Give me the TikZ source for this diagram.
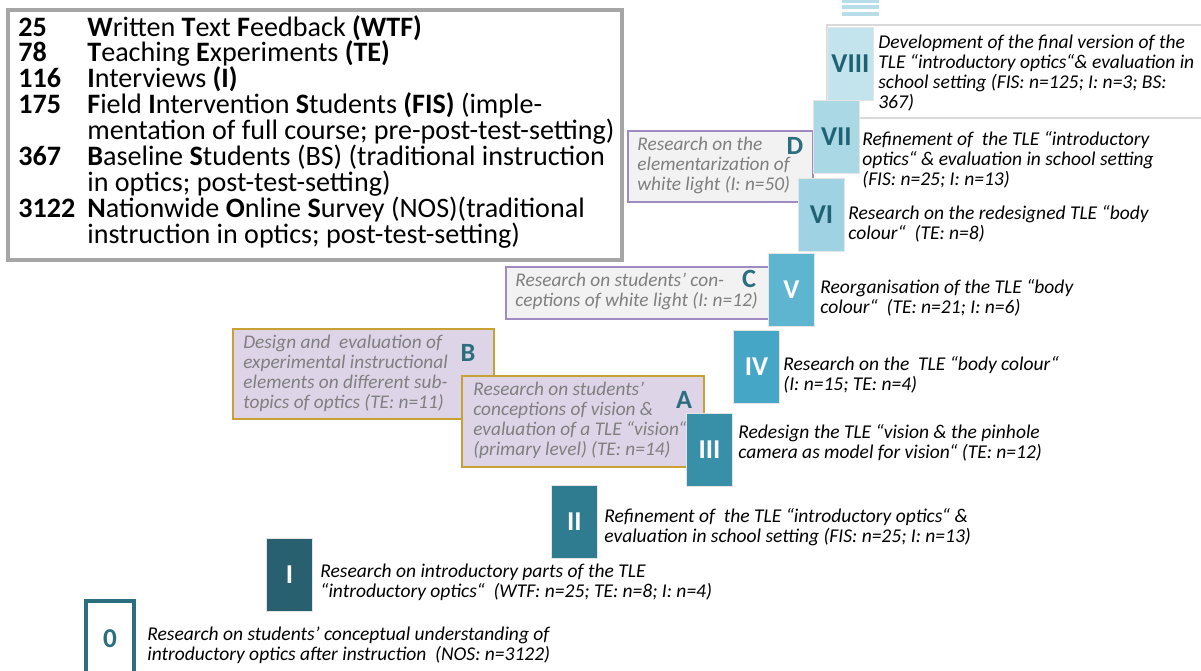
\documentclass[tikz,border=0pt]{standalone}
\usepackage{fontspec}
\setmainfont{Carlito}
\usetikzlibrary{calc}
\definecolor{tealdark}{HTML}{2B6E80}
\definecolor{tealtext}{HTML}{1F6274}
\definecolor{cI}{HTML}{28606F}
\definecolor{cII}{HTML}{2F7C91}
\definecolor{cIII}{HTML}{378FA8}
\definecolor{cIV}{HTML}{45A7C5}
\definecolor{cV}{HTML}{5DB5CF}
\definecolor{cVI}{HTML}{9FD2E2}
\definecolor{cVII}{HTML}{AAD8E5}
\definecolor{cVIII}{HTML}{C3E4ED}
\definecolor{cIX}{HTML}{B7DDEA}
\definecolor{lilac}{HTML}{9E8BC2}
\definecolor{lilacfill}{HTML}{DDD4E7}
\definecolor{gold}{HTML}{C9A033}
\definecolor{greyfill}{HTML}{F2F2F2}
\definecolor{greytext}{HTML}{7F7F7F}

\begin{document}
\begin{tikzpicture}[x=0.02cm,y=-0.02cm,
    stepbox/.style={draw=black!10,line width=0.5pt,anchor=north west,minimum width=0.92cm,minimum height=1.46cm,inner sep=0pt,font=\fontsize{15.5}{15.5}\selectfont\bfseries},
    steptext/.style={anchor=west,align=left,inner sep=0pt,font=\fontsize{11.1}{11.4}\selectfont\itshape},
    sidebox/.style={line width=1.2pt,anchor=north west,inner sep=0pt},
    sidetext/.style={anchor=west,align=left,inner sep=0pt,text=greytext,font=\fontsize{11}{11.4}\selectfont\itshape},
    letter/.style={inner sep=0pt,text=tealdark,font=\fontsize{15}{15}\selectfont\bfseries},
    legnum/.style={anchor=base west,inner sep=0pt,font=\fontsize{16}{16}\selectfont\bfseries},
    legtext/.style={anchor=base west,inner sep=0pt,font=\fontsize{16}{16}\selectfont}]
  \useasboundingbox (0,0) rectangle (1201,670);

  % legend
  \def\lh{25.9}
  \draw[line width=2.2pt,draw=black!35] (8,10) rectangle (622,260);
  \foreach \num/\txt [count=\i from 0] in {
      25/{\textbf{W}ritten \textbf{T}ext \textbf{F}eedback \textbf{(WTF)}},
      78/{\textbf{T}eaching \textbf{E}xperiments \textbf{(TE)}},
      116/{\textbf{I}nterviews \textbf{(I)}},
      175/{\textbf{F}ield \textbf{I}ntervention \textbf{S}tudents \textbf{(FIS)} (imple-},
      {}/{mentation of full course; pre-post-test-setting)},
      367/{\textbf{B}aseline \textbf{S}tudents (BS) (traditional instruction},
      {}/{in optics; post-test-setting)},
      3122/{\textbf{N}ationwide \textbf{O}nline \textbf{S}urvey (NOS)(traditional},
      {}/{instruction in optics; post-test-setting)}}
  {
    \node[legnum] (num\i) at (18,{36+\lh*\i}) {\num};
    \node[legtext] (leg\i) at (87,{36+\lh*\i}) {\txt};
  }

  % side studies A-D
  \node[sidebox,draw=lilac,fill=greyfill,minimum width=3.7cm,minimum height=1.42cm] (boxD) at (627,130) {};
  \node[sidetext] (textD) at (637,165) {Research on the\\elementarization of\\white light (I: n=50)};
  \node[letter] (letD) at (795,146) {D};
  \node[sidebox,draw=lilac,fill=greyfill,minimum width=5.7cm,minimum height=1.04cm] (boxC) at (505,266) {};
  \node[sidetext] (textC) at (515,291) {Research on students’ con-\\ceptions of white light (I: n=12)};
  \node[letter] (letC) at (749,279) {C};
  \node[sidebox,draw=gold,fill=lilacfill,minimum width=5.22cm,minimum height=1.8cm] (boxB) at (232,328) {};
  \node[sidetext] (textB) at (243,373) {Design and\ \ evaluation of\\experimental instructional\\elements on different sub-\\topics of optics (TE: n=11)};
  \node[letter] (letB) at (468,353) {B};
  \node[sidebox,draw=gold,fill=lilacfill,minimum width=4.84cm,minimum height=1.82cm] (boxA) at (461,375) {};
  \node[sidetext] (textA) at (473,420) {Research on students’\\conceptions of vision \&\\evaluation of a TLE “vision“\\(primary level) (TE: n=14)};
  \node[letter] (letA) at (684,400) {A};

  % top of the next step
  \foreach \y/\h in {0/3,5/4,12/4}
    \fill[cIX] (842,\y) rectangle ++(37,\h);
  \draw[draw=black!15,fill=white,line width=0.6pt] (827,25) rectangle (1205,118);

  % steps 0-VIII
  \node[stepbox,draw=tealdark,line width=2.2pt,fill=white,text=tealdark,minimum width=0.96cm,minimum height=1.5cm] (s0) at (84,599) {0};
  \node[steptext] (t0) at (147,645) {Research on students’ conceptual understanding of\\introductory optics after instruction\ \ (NOS: n=3122)};
  \node[stepbox,fill=cI,text=white] (sI) at (266,538) {I};
  \node[steptext] (tI) at (320,582) {Research on introductory parts of the TLE\\“introductory optics“\ \ (WTF: n=25; TE: n=8; I: n=4)};
  \node[stepbox,fill=cII,text=white] (sII) at (551,485) {II};
  \node[steptext] (tII) at (604,527) {Refinement of\ \ the TLE “introductory optics“ \&\\evaluation in school setting (FIS: n=25; I: n=13)};
  \node[stepbox,fill=cIII,text=white] (sIII) at (686,413) {III};
  \node[steptext] (tIII) at (738,443) {Redesign the TLE “vision \& the pinhole\\camera as model for vision“ (TE: n=12)};
  \node[stepbox,fill=cIV,text=white] (sIV) at (733,330) {IV};
  \node[steptext] (tIV) at (783,375) {Research on the\ \ TLE “body colour“\\(I: n=15; TE: n=4)};
  \node[stepbox,fill=cV,text=white] (sV) at (768,253) {V};
  \node[steptext] (tV) at (820,298) {Reorganisation of the TLE “body\\colour“\ \ (TE: n=21; I: n=6)};
  \node[stepbox,fill=cVI,text=tealtext] (sVI) at (798,178) {VI};
  \node[steptext] (tVI) at (848,224) {Research on the redesigned TLE “body\\colour“\ \ (TE: n=8)};
  \node[stepbox,fill=cVII,text=tealtext] (sVII) at (813,100) {VII};
  \node[steptext] (tVII) at (862,160) {Refinement of\ \ the TLE “introductory\\optics“ \& evaluation in school setting\\(FIS: n=25; I: n=13)};
  \node[stepbox,fill=cVIII,text=tealtext] (sVIII) at (827,27) {VIII};
  \node[steptext] (tVIII) at (878,73) {Development of the final version of the\\TLE “introductory optics“\& evaluation in\\school setting (FIS: n=125; I: n=3; BS:\\367)};
\end{tikzpicture}
\end{document}
